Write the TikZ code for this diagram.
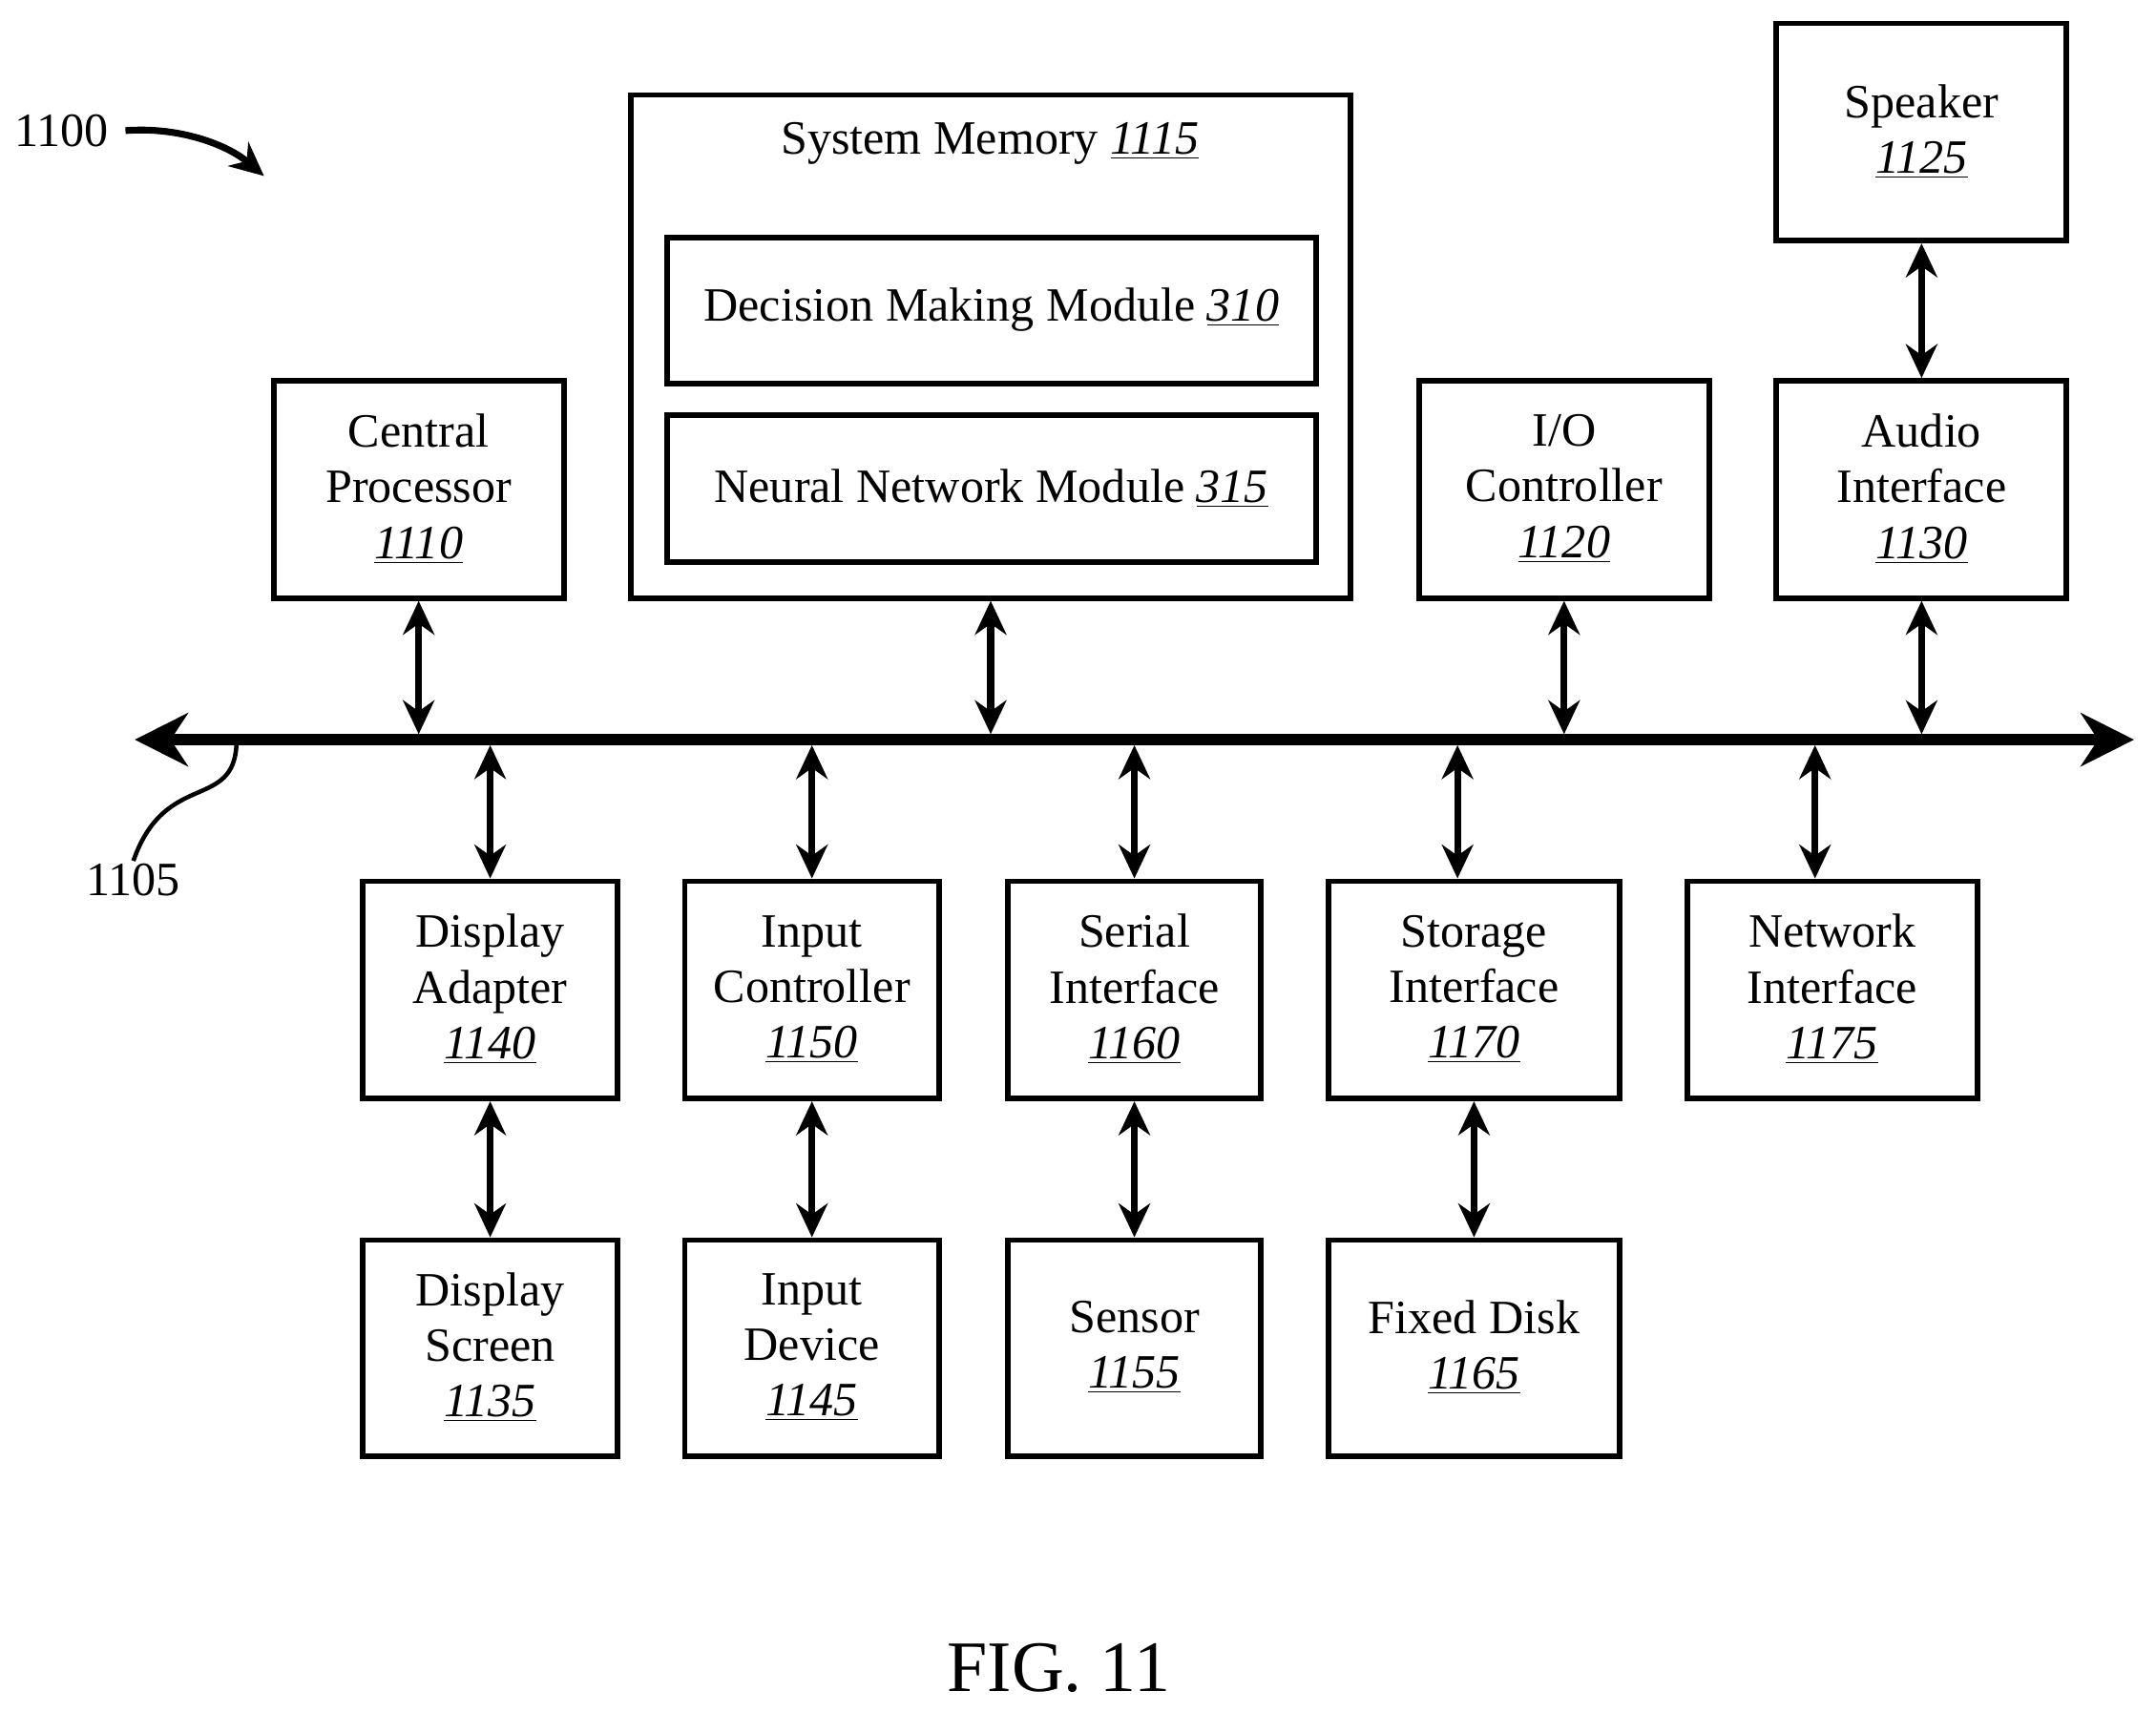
\documentclass[tikz,border=0pt]{standalone}
\usepackage{fontspec}
\setmainfont{Liberation Serif}
\usetikzlibrary{fit,arrows.meta}
\newcommand{\nm}[1]{\underline{\textit{#1}}}
\newcommand{\bx}[6]{\node[box,fit={(#2,#3)(#4,#5)}] (#1) {};
 \node[lbl,align=center] (#1-t) at ([yshift=0.01cm]#1.center) {#6};}
\begin{document}
\begin{tikzpicture}[x=0.02cm,y=-0.02cm,
 box/.style={draw,line width=2.3pt,inner sep=0pt},
 dar/.style={line width=2.8pt,{Stealth[length=14pt,width=13pt]}-{Stealth[length=14pt,width=13pt]}},
 lbl/.style={font=\fontsize{19.8}{23}\selectfont,inner sep=1pt}]
\useasboundingbox (0,0) rectangle (1568,1245);
\bx{cp}{199}{277}{410}{435}{Central\\Processor\\\nm{1110}}
\node[box,fit={(459,69)(982,435)}] (sm) {};
\node[lbl] (smt) at (720,104) {System Memory \nm{1115}};
\bx{dm}{485}{173}{957}{279}{Decision Making Module \nm{310}}
\bx{nn}{485}{302}{957}{409}{Neural Network Module \nm{315}}
\bx{io}{1032}{277}{1243}{435}{I/O\\Controller\\\nm{1120}}
\bx{ai}{1292}{277}{1503}{435}{Audio\\Interface\\\nm{1130}}
\bx{sp}{1292}{17}{1503}{175}{Speaker\\\nm{1125}}
\bx{da}{264}{641}{449}{799}{Display\\Adapter\\\nm{1140}}
\bx{ic}{498}{641}{683}{799}{Input\\Controller\\\nm{1150}}
\bx{si}{733}{641}{917}{799}{Serial\\Interface\\\nm{1160}}
\bx{st}{966}{641}{1178}{799}{Storage\\Interface\\\nm{1170}}
\bx{ni}{1227}{641}{1438}{799}{Network\\Interface\\\nm{1175}}
\bx{ds}{264}{902}{449}{1059}{Display\\Screen\\\nm{1135}}
\bx{id}{498}{902}{683}{1059}{Input\\Device\\\nm{1145}}
\bx{se}{733}{902}{917}{1059}{Sensor\\\nm{1155}}
\bx{fd}{966}{902}{1178}{1059}{Fixed Disk\\\nm{1165}}
\coordinate (busL) at (98,538);
\coordinate (busR) at (1552,538);
\draw[line width=4.8pt,{Stealth[length=22pt,width=22pt]}-{Stealth[length=22pt,width=22pt]}] (busL) -- (busR);
\foreach \n in {cp,sm,io,ai} \draw[dar] (\n.south) -- (\n.south |- 0,534);
\draw[dar] (sp.south) -- (ai.north);
\draw[dar] (da.north) -- (da.north |- 0,542);
\draw[dar] (ic.north) -- (ic.north |- 0,542);
\draw[dar] (si.north) -- (si.north |- 0,542);
\draw[dar] (st.north -| 1060,0) -- (1060,542);
\draw[dar] (ni.north -| 1320,0) -- (1320,542);
\draw[dar] (da.south) -- (ds.north);
\draw[dar] (ic.south) -- (id.north);
\draw[dar] (si.south) -- (se.north);
\draw[dar] (st.south) -- (fd.north);
\node[lbl] (l1100) at (45,95) {1100};
\coordinate (a1) at (192,128);
\draw[line width=2.8pt,-{Stealth[length=14pt,width=13pt]}] (l1100.east)+(10,0) .. controls (130,92) and (165,105) .. (a1);
\node[lbl] (l1105) at (97,640) {1105};
\coordinate (b1) at (172,541);
\draw[line width=1.8pt] (b1) .. controls (170,590) and (120,560) .. (l1105.north);
\node[font=\fontsize{30}{36}\selectfont] (fig) at (770,1213) {FIG. 11};
\end{tikzpicture}
\end{document}
